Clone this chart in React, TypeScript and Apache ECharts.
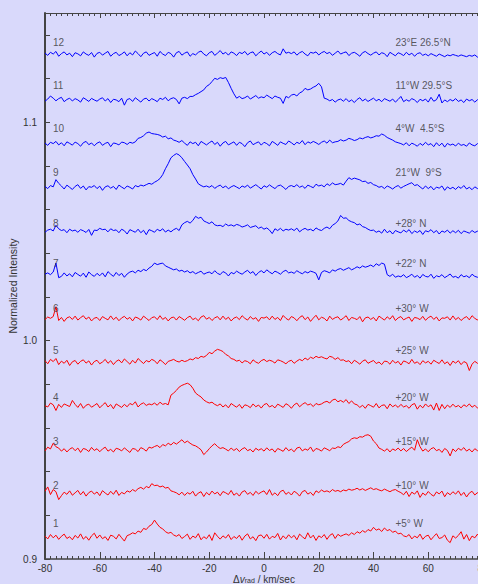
import React, { useEffect, useRef } from 'react';
import * as echarts from 'echarts';

// Velocity grid (km/s), one sample per km/s from -80 to 80
const velocity: number[] = Array.from({ length: 161 }, (_, i) => -80 + i);

// Continuum level of each spectrum (normalized intensity)
const baselines = [0.91, 0.93, 0.95, 0.97, 0.99, 1.01, 1.03, 1.05, 1.07, 1.09, 1.11, 1.131];

// Deviation from continuum, in units of 1e-4
const spec1 = [
  5, -8, 12, -3, 9, -10, 4, 14, -6, 2,
  -12, 8, -4, 15, -9, 3, -14, 6, 18, -5,
  10, -7, 2, -15, 9, 4, -8, 13, -3, -18,
  7, 12, 20, 15, 28, 22, 40, 35, 50, 58,
  78, 60, 45, 38, 25, 18, 22, 10, 4, 12,
  -6, 3, 14, -10, 5, -3, 16, -12, 2, -7,
  11, -15, 20, 4, -9, 6, -4, 12, -11, 3,
  -6, 9, -14, 5, 15, -8, 2, -16, 7, 10,
  -5, 13, -9, 4, -2, 17, -13, 6, -7, 11,
  -3, 8, -12, 14, 2, -8, 20, -4, 9, -15,
  6, -2, 12, -10, 8, 16, -6, 13, 4, 10,
  15, 8, 20, 12, 25, 18, 30, 22, 35, 28,
  45, 32, 38, 26, 42, 30, 35, 22, 28, 15,
  18, 6, 2, 12, -8, 5, -3, 14, -10, 4,
  9, -12, 3, 16, -6, -2, 10, -14, -25, 6,
  -4, 8, 25, -9, 12, -16, 5, -3, 14, -7,
  3,
];
const spec2 = [
  10, 30, -5, 18, 8, -28, -10, 6, -4, 12,
  -8, 3, 14, -6, 9, -12, 4, 11, -3, 7,
  -10, 13, 2, -7, 10, -4, 15, -9, 5, -2,
  12, 6, 18, 10, 22, 28, 20, 32, 26, 45,
  36, 38, 30, 34, 25, 28, 12, 8, 3, -6,
  6, -9, 4, -3, 10, -12, 2, 8, -14, 5,
  -7, 11, -2, 6, -10, 9, 3, -5, 14, -8,
  2, -12, 7, 13, -4, 5, -9, 10, -2, 6,
  12, -5, 18, -8, 3, -10, 9, 15, -4, 6,
  -7, 10, 2, -12, 8, 14, -3, 5, -9, 12,
  4, 16, 8, 12, 6, 18, 10, 14, 8, 16,
  12, 20, 15, 18, 24, 16, 22, 14, 20, 26,
  18, 22, 16, 12, 20, 14, 8, 15, 18, 10,
  4, -6, 10, -14, 6, -3, 12, -18, 2, -8,
  9, -4, -12, 7, -2, 11, -15, 4, -6, 8,
  -3, 12, -9, 5, -16, 2, 10, -7, 4, -11,
  3,
];
const spec3 = [
  -5, 12, 4, 30, 14, 8, -6, 5, -10, 3,
  10, -4, 8, -12, 6, 2, -8, 11, -3, 5,
  -9, 4, 12, -6, 2, -10, 7, 3, -5, 9,
  -2, -12, 6, 3, -8, 10, 4, -6, 12, 8,
  15, 20, 10, 24, 18, 30, 22, 34, 26, 36,
  46, 32, 40, 30, 22, 18, 10, 0, -22, -10,
  5, 18, 28, 15, 6, 10, 3, -5, 8, -3,
  6, -8, 4, 10, -4, 2, -10, 7, -2, 5,
  -6, 9, -3, 4, -11, 6, 0, -7, 10, -4,
  3, -9, 8, 12, -5, 4, -2, 13, -8, 6,
  2, -6, 9, 3, -4, 8, 6, 14, 10, 25,
  32, 38, 50, 55, 52, 60, 58, 66, 69, 62,
  40, 28, 8, 2, -6, 5, -10, 4, -3, 8,
  -5, 6, -8, 3, 12, -2, 46, 14, -6, 4,
  -9, 5, 10, -4, 2, -12, 6, -3, -28, 4,
  -8, 7, -2, 10, -6, 3, -10, 5, -4, 8,
  -2,
];
const spec4 = [
  2, -4, 14, 6, -20, 8, -6, 10, 4, -2,
  26, 8, -6, 12, -10, 4, 9, -5, 3, 12,
  -8, 5, 16, -4, 7, -12, 10, 2, -6, 8,
  -3, 12, 6, 20, -4, 9, 15, 3, 10, 6,
  14, 4, 18, 8, 12, 6, 50, 60, 72, 87,
  95, 100, 105, 98, 82, 60, 50, 42, 28, 20,
  14, 18, 8, 2, 10, -4, 6, -8, 12, 3,
  -5, 8, -10, 6, 2, -7, 10, -3, 5, -9,
  7, 12, -4, 3, -8, 9, 2, -6, 11, 4,
  -10, 6, 14, -3, 8, 16, 5, 10, -2, 12,
  6, 10, 18, 22, 14, 28, 32, 20, 26, 18,
  30, 12, 24, 10, 6, -6, 4, -10, 8, 2,
  -5, 12, -8, 3, 6, -12, 10, -3, 5, -6,
  8, -4, 2, -10, 6, 12, -14, 4, -8, 10,
  -3, 6, -18, 14, -20, 8, -12, 5, -6, 9,
  -4, 3, -8, 6, -2, 10, -5, 4, -9, 2,
  5,
];
const spec5 = [
  8, -6, 14, 4, 18, -10, 6, -4, 10, -14,
  3, 9, -8, 5, 12, -3, 7, -12, 4, 10,
  -6, 2, 14, -4, 8, -10, 5, 12, -2, 16,
  4, -8, 10, -3, 18, 6, -5, 9, 2, 14,
  8, -6, 12, 3, -10, 5, 9, 14, 6, 2,
  10, 4, 8, 16, 12, 22, 18, 28, 24, 32,
  46, 40, 52, 60, 56, 50, 37, 30, 18, 14,
  6, 10, -2, 8, 4, -6, 12, 2, -4, 8,
  14, 4, 10, 6, -3, 12, 8, 2, -6, 5,
  10, -4, 6, 14, 8, 20, 12, 24, 18, 28,
  22, 26, 20, 16, 28, 24, 14, 22, 10, 12,
  4, 8, -6, 10, 2, -8, 6, 12, -4, 3,
  9, -5, 2, -10, 6, 4, -8, 10, -3, 5,
  -12, 7, 2, -6, 14, -4, 3, -10, 8, -2,
  5, -8, 10, 2, -5, 12, -6, 3, -14, 6,
  -3, 8, -10, 4, -2, -37, -8, 5, -4, 6,
  2,
];
const spec6 = [
  -4, 8, 2, 10, 55, -8, 6, -12, 4, 9,
  -3, 12, -6, 5, 14, -2, 8, -10, 3, 6,
  -8, 10, 2, -5, 13, -4, 7, -9, 4, 11,
  -2, 6, -10, 8, 3, -6, 12, 2, -8, 5,
  9, -4, 14, -3, 6, -10, 4, 8, -6, 10,
  2, -7, 5, 12, -4, 3, -9, 8, 14, -2,
  6, -8, 4, 10, -5, 12, -3, 7, -10, 3,
  8, -4, 14, 2, -6, 10, -2, 5, -12, 6,
  3, 9, -5, 12, -3, 6, -8, 15, 2, -6,
  10, 4, -9, 6, 14, -4, 8, -12, 3, 16,
  -5, 7, 2, -10, 12, -3, 5, 9, -6, 3,
  14, -8, 6, 2, -4, 10, -14, 4, 8, -3,
  6, -10, 12, 3, -6, 9, -2, 14, -8, 4,
  10, -5, 2, 8, -12, 6, 3, -4, 11, -7,
  5, 12, -3, 8, -10, 4, 2, 9, -6, 13,
  -4, 6, -8, 3, 10, -5, 14, 2, -6, 8,
  -3,
];
const spec7 = [
  4, 10, 2, 14, 55, -12, -6, 10, -4, 6,
  -8, 12, 3, -5, 9, -10, 14, 2, -6, 8,
  -3, 10, -8, 16, 4, -6, 12, -2, 8, -10,
  5, 14, 18, 10, 22, 16, 26, 20, 32, 40,
  55, 48, 52, 55, 42, 36, 30, 24, 28, 18,
  22, 14, 20, 10, 16, 6, 12, 18, 4, 10,
  14, 6, 20, 8, 2, 16, 10, -4, 12, 6,
  18, 10, 4, 14, 22, 8, 16, -2, 12, 20,
  10, 24, 14, 6, 18, 12, 4, 16, 22, 10,
  14, 8, 20, 12, 6, 16, 10, 18, 14, 8,
  -22, 12, 20, 16, 10, 24, 18, 26, 30, 22,
  28, 34, 24, 30, 38, 32, 42, 36, 40, 46,
  38, 52, 44, 55, 50, 2, -6, 4, -10, -4,
  -8, 2, -12, -5, 4, -10, -2, -14, 3, -6,
  -9, 4, -15, -3, -8, 2, -12, -4, 5, -10,
  -6, -14, 2, -8, -3, -12, 4, -6, -10, -2,
  -5,
];
const spec8 = [
  -4, 6, 10, 2, 28, 12, 4, 8, -6, 10,
  2, 6, -4, 8, 3, -5, 9, -18, 6, 4,
  14, 8, 10, -2, 12, 4, 7, -6, 10, 3,
  -12, 8, 2, -4, 10, -6, 5, -15, 8, 3,
  -4, 10, 2, 12, -3, 6, -2, 8, 14, 4,
  30, 40, 46, 38, 50, 69, 60, 65, 48, 42,
  36, 44, 30, 26, 28, 22, 34, 26, 30, 24,
  32, 28, 20, 24, 30, 18, 22, 26, 14, 20,
  10, 16, 6, -10, 12, 4, 14, 2, 10, 6,
  12, 4, 15, -2, 8, 14, 6, 10, 2, 16,
  8, 4, 14, 20, 12, 28, 36, 48, 73, 60,
  62, 50, 44, 40, 30, 34, 22, 18, 10, 4,
  6, -4, 2, -8, 10, -6, 3, -12, 4, -2,
  -7, 6, -3, 8, -10, 2, -5, 4, -14, 3,
  -2, 8, -6, 4, -12, 2, -4, 6, -8, 3,
  -6, 5, -10, 2, -3, -8, 4, -5, 1, -4,
  -2,
];
const spec9 = [
  6, -4, 10, 4, 37, 20, 8, -6, 12, 2,
  -8, 6, 14, -3, 8, -10, 5, 2, 10, -4,
  7, -12, 4, 9, -2, 6, -8, 12, 3, -5,
  8, 2, -6, 10, 4, 12, 8, 14, 20, 16,
  25, 32, 42, 60, 87, 110, 137, 148, 156, 150,
  137, 120, 104, 87, 60, 40, 18, 10, 4, 8,
  2, 10, -3, 6, 12, 0, 8, -5, 4, 10,
  3, -4, 8, 2, 12, -2, 6, 14, 4, -6,
  9, 2, 13, 4, -4, 8, 12, 3, -8, 6,
  10, 4, 14, 2, 8, -3, 12, 6, 0, 16,
  8, 12, 4, 18, 10, 22, 14, 16, 20, 12,
  30, 46, 38, 44, 40, 36, 28, 30, 20, 24,
  14, 10, 2, 6, -4, 8, 2, -6, 4, 10,
  -2, 6, 12, 18, 23, 10, 14, 4, -6, 8,
  -4, 6, -10, 3, -2, 8, -12, 4, -5, 2,
  -8, 5, -3, 10, -6, 2, -9, 4, -4, 1,
  -3,
];
const spec10 = [
  4, -6, 8, 2, 12, -4, 6, -8, 10, 3,
  -5, 9, 2, -10, 6, 12, -3, 5, -8, 4,
  10, -6, 3, 8, -12, 5, 2, -4, 9, 6,
  -2, 8, 4, 10, 26, 30, 38, 50, 55, 48,
  46, 44, 40, 32, 36, 24, 28, 18, 14, 8,
  16, 4, -6, 10, 2, 8, -8, 12, 4, -4,
  6, 14, -2, 8, -10, 5, 12, -4, 3, 10,
  -6, 8, 2, -12, 6, 14, -3, 4, 10, -5,
  8, 2, -8, 12, 4, -6, 10, 3, -2, 14,
  6, -4, 8, 2, 16, -3, 10, 4, 12, 6,
  -2, 8, 14, 4, 18, 6, 10, 12, 20, 14,
  18, 26, 22, 16, 20, 28, 24, 30, 34, 28,
  32, 38, 36, 46, 40, 30, 24, 18, 10, 6,
  2, -4, 6, -8, 4, -2, -10, 3, -6, 8,
  -4, 2, -12, 6, -8, 4, -14, 3, -5, 0,
  -9, 4, -6, -2, -10, 5, -4, -8, 2, -6,
  -3,
];
const spec11 = [
  -4, 6, 20, 10, -2, 8, 14, -6, 4, 10,
  -3, 8, 2, -8, 12, 4, -5, 9, 2, -4,
  6, 12, -3, 8, -10, 5, 2, -6, 10, -22,
  4, 8, -5, 12, 2, -8, 6, 10, -3, 8,
  2, -6, 10, 4, 14, -2, 8, 12, 4, -16,
  10, 14, 8, 18, 18, 26, 32, 40, 48, 64,
  72, 86, 101, 96, 104, 100, 105, 82, 55, 30,
  10, 18, 8, 12, 20, 6, 14, 22, 10, 16,
  12, 24, 16, 8, 20, 14, 10, -14, 18, 12,
  24, 28, 20, 34, 40, 55, 48, 52, 60, 66,
  78, 62, 10, 6, -2, 4, -8, 2, 6, -4,
  8, -6, 2, -10, 4, 12, -3, 6, -5, 3,
  10, -2, 5, -6, 8, 2, -4, 6, -8, 4,
  18, -6, 3, -4, 8, 2, -10, 5, -2, 6,
  -8, 14, -4, 3, 28, -12, 2, -6, 4, -3,
  8, -5, 2, -10, 6, -2, 4, -8, 3, -4,
  2,
];
const spec12 = [
  6, -4, 10, 2, 14, -8, 4, 12, -2, 6,
  -10, 8, 3, -6, 12, 2, -4, 9, -12, 5,
  10, -3, 6, 14, -8, 4, 10, -5, 2, 12,
  -6, 8, -2, 16, 4, -10, 6, 12, -4, 3,
  9, -8, 14, 2, -5, 10, 4, -12, 8, 14,
  -3, 6, 12, -8, 4, -2, 10, 16, 2, -6,
  8, 14, -4, 6, 18, 2, 10, -3, 12, 6,
  -5, 10, 4, 14, -2, 8, 12, -6, 6, 16,
  2, 10, -4, 8, 14, 4, -2, 26, 6, 10,
  4, 12, -3, 8, 14, 2, -6, 10, 6, 12,
  -2, 8, 14, 4, 10, -4, 6, 16, 2, 8,
  12, -5, 6, 10, 2, -8, 8, 14, 4, -3,
  6, 12, -2, 8, 4, -10, 10, 2, -6, 8,
  3, -5, 10, -2, 6, -8, 4, 8, -4, 2,
  -6, 4, -2, -8, 2, -4, -10, -2, -6, 0,
  -4, -8, -2, -6, -10, -4, -8, -2, -12, -6,
  -8,
];

const spectra = [spec1, spec2, spec3, spec4, spec5, spec6, spec7, spec8, spec9, spec10, spec11, spec12];

const traceNumbers = ['1', '2', '3', '4', '5', '6', '7', '8', '9', '10', '11', '12'];
const regionLabels = [
  '+5° W', '+10° W', '+15° W', '+20° W', '+25° W', '+30° W',
  '+22° N', '+28° N', '21°W  9°S', '4°W  4.5°S', '11°W 29.5°S', '23°E 26.5°N',
];
// intensity level at which each pair of labels sits
const labelLevels = [0.9162, 0.9336, 0.9537, 0.974, 0.9954, 1.0147, 1.0353, 1.0537, 1.077, 1.0971, 1.1168, 1.1366];
const numberLabelX = -77.1;
const regionLabelX = 48;

const xTickLabels = ['-80', '-60', '-40', '-20', '0', '20', '40', '60', '80'];
const yTickLabels = ['0.9', '1.0', '1.1'];

const BG = '#d9d9fb';
const TEXT = '#333333';
const AXIS = '#444444';
const FONT = '"Liberation Sans", Arial, sans-serif';
const traceColors = ['#ff0000', '#ff0000', '#ff0000', '#ff0000', '#ff0000', '#ff0000',
  '#0000ff', '#0000ff', '#0000ff', '#0000ff', '#0000ff', '#0000ff'];

export default function App() {
  const ref = useRef<HTMLDivElement>(null);
  useEffect(() => {
    if (!ref.current) return;
    const chart = echarts.init(ref.current, null, { renderer: 'svg' });

    const lineSeries = spectra.map((dev, k) => ({
      type: 'line' as const,
      name: traceNumbers[k],
      xAxisIndex: 0,
      yAxisIndex: 0,
      data: velocity.map((v, i) => [v, baselines[k] + dev[i] * 1e-4]),
      symbol: 'none',
      showSymbol: false,
      lineStyle: { color: traceColors[k], width: 1 },
      itemStyle: { color: traceColors[k] },
      silent: true,
      z: 3,
    }));

    const labelData: any[] = [];
    labelLevels.forEach((y, k) => {
      labelData.push({ value: [numberLabelX, y], name: traceNumbers[k] });
      labelData.push({ value: [regionLabelX, y], name: regionLabels[k] });
    });

    const labelSeries = {
      type: 'scatter' as const,
      xAxisIndex: 0,
      yAxisIndex: 0,
      data: labelData,
      symbolSize: 0,
      silent: true,
      z: 5,
      label: {
        show: true,
        position: 'right',
        distance: 0,
        formatter: (p: any) => p.name,
        color: TEXT,
        fontSize: 10,
        fontFamily: FONT,
        align: 'left',
        verticalAlign: 'middle',
      },
    };

    chart.setOption({
      animation: false,
      backgroundColor: BG,
      grid: { left: 45, top: 13, right: 17, bottom: 25, containLabel: false, outerBoundsMode: 'none' },
      xAxis: [
        {
          type: 'value',
          position: 'bottom',
          min: -80,
          max: 80,
          interval: 20,
          name: '{n|Δ}{i|v}{s|rad}{n| / km/sec}',
          nameLocation: 'middle',
          nameGap: 15,
          nameMoveOverlap: false,
          nameTextStyle: {
            color: TEXT,
            fontFamily: FONT,
            fontSize: 10,
            lineHeight: 10,
            rich: {
              n: { fontSize: 10, color: TEXT, fontFamily: FONT, lineHeight: 10 },
              i: { fontSize: 10, color: TEXT, fontFamily: FONT, fontStyle: 'italic', lineHeight: 10 },
              s: { fontSize: 7, color: TEXT, fontFamily: FONT, lineHeight: 10, verticalAlign: 'bottom' },
            },
          },
          axisLine: { show: true, onZero: false, lineStyle: { color: AXIS, width: 1.5 } },
          axisTick: { show: true, inside: true, length: 7, lineStyle: { color: AXIS, width: 1 } },
          minorTick: { show: true, splitNumber: 10, length: 3, lineStyle: { color: AXIS, width: 1 } },
          splitLine: { show: false },
          axisLabel: {
            show: true,
            margin: 4,
            color: TEXT,
            fontSize: 10,
            fontFamily: FONT,
            formatter: (v: number) => {
              const s = String(Math.round(v));
              return xTickLabels.includes(s) ? s : '';
            },
          },
        },
        {
          type: 'value',
          position: 'top',
          min: -80,
          max: 80,
          interval: 20,
          axisLine: { show: true, onZero: false, lineStyle: { color: AXIS, width: 1 } },
          axisTick: { show: true, inside: true, length: 5, lineStyle: { color: AXIS, width: 1 } },
          minorTick: { show: true, splitNumber: 10, length: 3, lineStyle: { color: AXIS, width: 1 } },
          splitLine: { show: false },
          axisLabel: { show: false },
        },
      ],
      yAxis: [
        {
          type: 'value',
          min: 0.9,
          max: 1.15,
          interval: 0.02,
          name: 'Normalized Intensity',
          nameLocation: 'middle',
          nameGap: 27,
          nameMoveOverlap: false,
          nameTextStyle: { color: TEXT, fontFamily: FONT, fontSize: 10.5 },
          axisLine: { show: true, onZero: false, lineStyle: { color: AXIS, width: 2 } },
          axisTick: { show: true, inside: true, length: 5, lineStyle: { color: AXIS, width: 1 } },
          splitLine: { show: false },
          axisLabel: {
            show: true,
            margin: 8,
            color: TEXT,
            fontSize: 10,
            fontFamily: FONT,
            showMaxLabel: false,
            formatter: (v: number) => {
              const s = v.toFixed(1);
              return Math.abs(v * 10 - Math.round(v * 10)) < 1e-6 && yTickLabels.includes(s) ? s : '';
            },
          },
        },
      ],
      series: [...lineSeries, labelSeries],
    });

    return () => chart.dispose();
  }, []);

  return (
    <div
      style={{
        position: 'fixed',
        left: 0,
        top: 0,
        width: 478,
        height: 584,
        overflow: 'hidden',
        background: BG,
      }}
    >
      <div ref={ref} style={{ width: 500, height: 584 }} />
    </div>
  );
}
